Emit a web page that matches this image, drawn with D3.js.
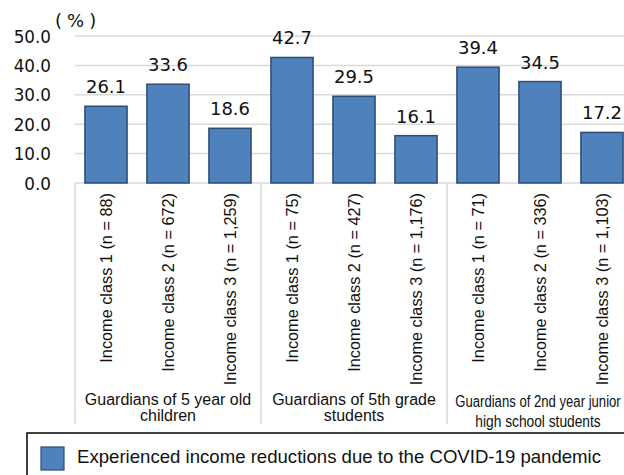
<!DOCTYPE html>
<html>
<head>
<meta charset="utf-8">
<script src="https://cdn.jsdelivr.net/npm/d3@7/dist/d3.min.js"></script>
<style>
  html, body { margin: 0; padding: 0; background: #fff; overflow: hidden; }
  svg { display: block; }
</style>
</head>
<body>
<svg id="chart" width="624" height="475"></svg>
<script>
// Share of guardians reporting income reductions, by income class and child's school year
const groups = [
  ["Guardians of 5 year old", "children"],
  ["Guardians of 5th grade", "students"],
  ["Guardians of 2nd year junior", "high school students"]
];
const categories = [
  "Income class 1 (n = 88)", "Income class 2 (n = 672)", "Income class 3 (n = 1,259)",
  "Income class 1 (n = 75)", "Income class 2 (n = 427)", "Income class 3 (n = 1,176)",
  "Income class 1 (n = 71)", "Income class 2 (n = 336)", "Income class 3 (n = 1,103)"
];
const values = [26.1, 33.6, 18.6, 42.7, 29.5, 16.1, 39.4, 34.5, 17.2];
const yTicks = [0, 10, 20, 30, 40, 50];
const seriesName = "Experienced income reductions due to the COVID-19 pandemic";

const svg = d3.select("#chart");
const fill = "#4f81bd", edge = "#2c4d75", grid = "#d9d9d9";

const x = d3.scaleBand()
  .domain(d3.range(categories.length))
  .range([75, 633])
  .paddingInner(0.32)
  .paddingOuter(0.16);
const y = d3.scaleLinear().domain([0, 50]).range([183, 36]);

// horizontal gridlines
svg.append("g").selectAll("line").data(yTicks.filter(d => d > 0)).join("line")
  .attr("x1", 75).attr("x2", 624)
  .attr("y1", d => y(d)).attr("y2", d => y(d))
  .attr("stroke", grid).attr("stroke-width", 1.5);

// y-axis tick labels
const yAxis = d3.axisLeft(y).tickValues(yTicks).tickFormat(d3.format(".1f")).tickSize(0).tickPadding(0);
const ya = svg.append("g").attr("transform", "translate(51,0)").call(yAxis);
ya.select(".domain").remove();
ya.selectAll("text")
  .attr("font-family", "'DejaVu Sans', sans-serif")
  .attr("font-size", 16.8)
  .attr("fill", "#111")
  .attr("dy", "0.36em");

// unit label
svg.append("text")
  .attr("x", 55).attr("y", 27)
  .attr("font-family", "'DejaVu Sans', sans-serif")
  .attr("font-size", 18)
  .attr("letter-spacing", 5)
  .attr("fill", "#111")
  .text("(%)");

// group separators (category axis with multi-level boundaries)
const step = x.step();
const bounds = [0, 3, 6, 9].map(i => x.range()[0] + i * step);
svg.append("g").selectAll("line").data(bounds).join("line")
  .attr("x1", d => d).attr("x2", d => d)
  .attr("y1", 183).attr("y2", 424)
  .attr("stroke", grid).attr("stroke-width", 1.5);

// baseline
svg.append("line")
  .attr("x1", 75).attr("x2", 624)
  .attr("y1", y(0)).attr("y2", y(0))
  .attr("stroke", grid).attr("stroke-width", 1.5);

// bars
svg.append("g").selectAll("rect").data(values).join("rect")
  .attr("x", (d, i) => x(i))
  .attr("y", d => y(d))
  .attr("width", x.bandwidth())
  .attr("height", d => y(0) - y(d))
  .attr("fill", fill)
  .attr("stroke", edge)
  .attr("stroke-width", 1.5);

// value labels
svg.append("g").selectAll("text").data(values).join("text")
  .attr("x", (d, i) => x(i) + x.bandwidth() / 2)
  .attr("y", d => y(d) - 13)
  .attr("text-anchor", "middle")
  .attr("font-family", "'DejaVu Sans', sans-serif")
  .attr("font-size", 18)
  .attr("fill", "#111")
  .text(d => d.toFixed(1));

// rotated category labels
svg.append("g").selectAll("text").data(categories).join("text")
  .attr("transform", (d, i) => `translate(${x(i) + x.bandwidth() / 2},193) rotate(-90)`)
  .attr("text-anchor", "end")
  .attr("dy", "0.35em")
  .attr("font-family", "'Liberation Sans', Arial, sans-serif")
  .attr("font-size", 16.3)
  .attr("fill", "#111")
  .text(d => d);

// group labels (the last group's lines are squeezed horizontally to fit)
const gLabels = svg.append("g")
  .attr("font-family", "'Liberation Sans', Arial, sans-serif")
  .attr("font-size", 16)
  .attr("fill", "#111")
  .attr("text-anchor", "middle");
groups.forEach((lines, gi) => {
  const condensed = gi === 2;
  const cx = condensed ? 538 : (bounds[gi] + bounds[gi + 1]) / 2;
  lines.forEach((ln, li) => {
    const yy = condensed ? 407 + li * 20 : 405 + li * 16;
    const sx = condensed ? (li === 0 ? 0.82 : 0.86) : 1;
    gLabels.append("text")
      .attr("transform", `translate(${cx},${yy}) scale(${sx},1)`)
      .text(ln);
  });
});

// legend
const lg = svg.append("g");
lg.append("rect")
  .attr("x", 27).attr("y", 433)
  .attr("width", 620).attr("height", 60)
  .attr("fill", "#fff")
  .attr("stroke", "#000")
  .attr("stroke-width", 1.5);
lg.append("rect")
  .attr("x", 41).attr("y", 447)
  .attr("width", 23).attr("height", 23)
  .attr("fill", fill)
  .attr("stroke", edge)
  .attr("stroke-width", 1.2);
lg.append("text")
  .attr("x", 77).attr("y", 461)
  .attr("dy", "0.1em")
  .attr("font-family", "'Liberation Sans', Arial, sans-serif")
  .attr("font-size", 18.6)
  .attr("fill", "#111")
  .text(seriesName);
</script>
</body>
</html>
